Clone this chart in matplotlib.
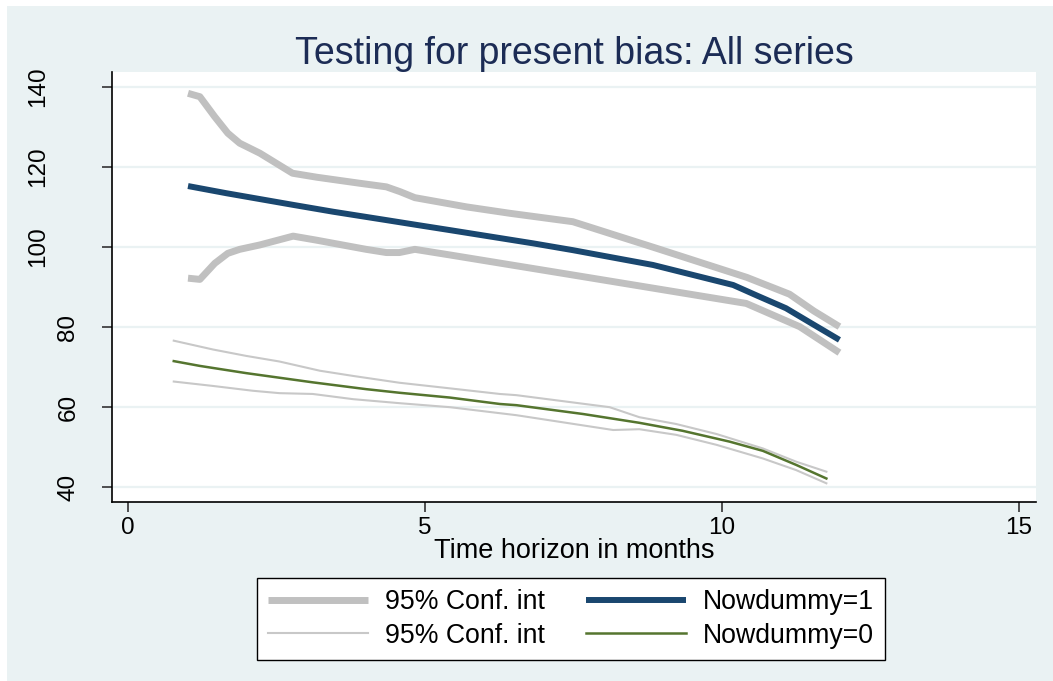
import matplotlib
matplotlib.use("Agg")
import matplotlib.pyplot as plt
from matplotlib.patches import Rectangle

plt.rcParams['font.family'] = ['Liberation Sans', 'DejaVu Sans']

# ---- data ----
x_now1 = [1.01, 1.66, 2.78, 3.45, 4.35, 4.86, 5.42, 6.82, 7.49, 8.84, 10.19, 10.6, 11.08, 11.5, 11.98]
y_now1 = [115.2, 113.4, 110.5, 108.8, 106.7, 105.5, 104.2, 100.9, 99.2, 95.5, 90.5, 87.8, 84.7, 81.0, 76.8]

x_ci1_hi = [1.01, 1.21, 1.46, 1.68, 1.88, 2.22, 2.77, 3.18, 3.9, 4.35, 4.58, 4.83, 5.70, 6.43, 7.49, 8.87, 10.42, 11.14, 11.55, 11.98]
y_ci1_hi = [138.35, 137.5, 132.5, 128.4, 125.9, 123.4, 118.4, 117.4, 115.9, 115.0, 113.8, 112.3, 110.0, 108.4, 106.3, 99.8, 92.4, 88.2, 84.0, 80.1]

x_ci1_lo = [1.01, 1.21, 1.46, 1.68, 1.88, 2.22, 2.78, 3.17, 4.01, 4.35, 4.57, 4.83, 5.42, 7.49, 10.41, 11.31, 11.98]
y_ci1_lo = [92.2, 91.9, 95.9, 98.4, 99.4, 100.5, 102.7, 101.7, 99.4, 98.6, 98.6, 99.4, 98.0, 93.0, 85.9, 80.1, 73.6]

x_now0 = [0.77, 1.21, 1.99, 3.11, 4.01, 4.57, 5.42, 6.26, 6.54, 7.66, 8.61, 9.34, 10.13, 10.69, 11.25, 11.76]
y_now0 = [71.5, 70.3, 68.5, 66.2, 64.5, 63.6, 62.4, 60.8, 60.5, 58.3, 56.1, 54.1, 51.4, 49.1, 45.6, 42.2]

x_ci0_hi = [0.77, 1.43, 1.99, 2.55, 3.23, 3.79, 4.57, 5.42, 6.26, 6.54, 8.11, 8.61, 9.23, 9.91, 10.69, 11.25, 11.76]
y_ci0_hi = [76.6, 74.4, 72.8, 71.4, 69.1, 67.8, 66.1, 64.7, 63.3, 63.0, 60.0, 57.5, 55.8, 53.3, 49.7, 46.4, 43.9]

x_ci0_lo = [0.77, 1.43, 2.10, 2.55, 3.11, 3.79, 4.57, 5.42, 6.26, 6.54, 8.17, 8.61, 9.23, 9.91, 10.69, 11.25, 11.76]
y_ci0_lo = [66.4, 65.3, 64.1, 63.5, 63.3, 62.0, 61.0, 60.0, 58.5, 58.0, 54.3, 54.5, 53.1, 50.6, 47.2, 44.3, 41.0]

xticks = [0, 5, 10, 15]
yticks_2d = [40, 60, 80]
yticks_3d = [100, 120, 140]

title = "Testing for present bias: All series"
xlabel = "Time horizon in months"
labels = ["95% Conf. int", "95% Conf. int", "Nowdummy=1", "Nowdummy=0"]

# ---- style ----
BG = "#EAF2F3"
NAVY = "#1A476F"
GREEN = "#55752F"
GRAY_THICK = "#C0C0C0"
GRAY_THIN = "#C8C8C8"

W, H = 1053, 681
fig = plt.figure(figsize=(W / 100, H / 100), dpi=100, facecolor="white")
fig.patches.append(Rectangle((7 / W, 0), (W - 7) / W, (H - 6) / H,
                             transform=fig.transFigure, facecolor=BG,
                             edgecolor="none", zorder=-10))

ax = fig.add_axes([112 / W, 1 - 502 / H, (1036 - 112) / W, (502 - 72) / H])
ax.set_facecolor("white")

h1, = ax.plot(x_ci1_hi, y_ci1_hi, color=GRAY_THICK, lw=5, solid_capstyle="butt", solid_joinstyle="round")
ax.plot(x_ci1_lo, y_ci1_lo, color=GRAY_THICK, lw=5, solid_capstyle="butt", solid_joinstyle="round")
h2, = ax.plot(x_ci0_hi, y_ci0_hi, color=GRAY_THIN, lw=1.5)
ax.plot(x_ci0_lo, y_ci0_lo, color=GRAY_THIN, lw=1.5)
h3, = ax.plot(x_now1, y_now1, color=NAVY, lw=4.3, solid_capstyle="butt", solid_joinstyle="round")
h4, = ax.plot(x_now0, y_now0, color=GREEN, lw=1.8)

ax.set_xlim(-0.27, 15.29)
ax.set_ylim(36.33, 143.67)

ax.set_xticks(xticks)
ax.set_xticklabels([str(v) for v in xticks])
ax.set_yticks(yticks_2d)
ax.set_yticklabels([str(v) for v in yticks_2d])
ax.set_yticks(yticks_3d, minor=True)
ax.set_yticklabels([str(v) for v in yticks_3d], minor=True)

for s in ["top", "right"]:
    ax.spines[s].set_visible(False)
for s in ["left", "bottom"]:
    ax.spines[s].set_color("black")
    ax.spines[s].set_linewidth(1.2)

ax.tick_params(axis="x", length=7, width=1.2, color="#333333", labelsize=17.5, pad=3.8)
ax.tick_params(axis="y", which="major", length=7, width=1.2, color="#333333", labelsize=17.5, pad=16.5)
ax.tick_params(axis="y", which="minor", length=7, width=1.2, color="#333333", labelsize=17.5, pad=38)
for lab in ax.get_yticklabels(which="both"):
    lab.set_rotation(90)
    lab.set_va("center")

ax.yaxis.grid(True, which="both", color=BG, lw=1.6)
ax.set_axisbelow(True)

ax.set_xlabel(xlabel, fontsize=19.5, labelpad=-1)
ax.set_title(title, fontsize=27, color="#1C2C55", pad=5)

leg = ax.legend([h1, h2, h3, h4], labels, ncol=2, loc="center",
                bbox_to_anchor=(571 / W, 1 - 619 / H), bbox_transform=fig.transFigure,
                fontsize=19.2, frameon=True, fancybox=False, framealpha=1,
                edgecolor="black", handlelength=3.75, handletextpad=0.62,
                columnspacing=1.55, labelspacing=0.28, borderpad=0.42)
leg.get_frame().set_linewidth(1.0)

fig.savefig("out.png", dpi=100, facecolor=fig.get_facecolor())
